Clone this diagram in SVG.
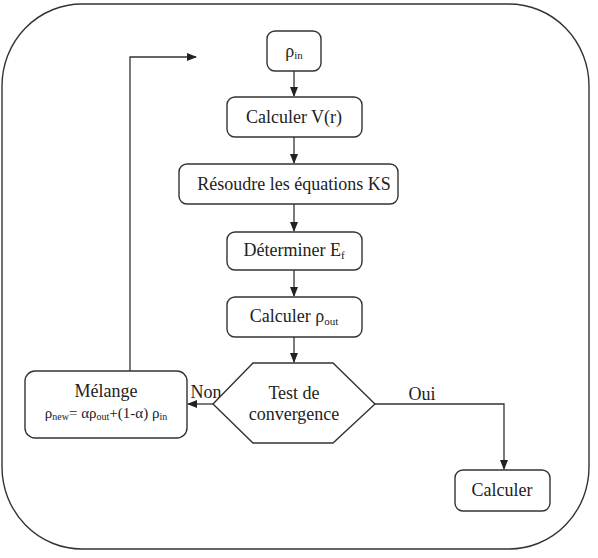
<svg xmlns="http://www.w3.org/2000/svg" width="598" height="558" viewBox="0 0 598 558">
<defs>
<marker id="ah" markerWidth="10" markerHeight="8" refX="9" refY="4" orient="auto" markerUnits="userSpaceOnUse">
<path d="M0,0 L10,4 L0,8 Z" fill="#222"/>
</marker>
<style>
.b{fill:#fff;stroke:#333;stroke-width:1.4}
.t{font-size:18px;fill:#222;text-anchor:middle}
.s{font-size:11px}
.c{fill:none;stroke:#333;stroke-width:1.3}
</style>
</defs>
<g font-family="'Liberation Serif', 'Times New Roman', 'DejaVu Serif', serif">
<rect x="2" y="4" width="587" height="545" rx="80" ry="82" fill="#fff" stroke="#333" stroke-width="1.4"/>
<g id="connectors">
<path class="c" d="M294,71 V96" marker-end="url(#ah)"/>
<path class="c" d="M294,137 V163" marker-end="url(#ah)"/>
<path class="c" d="M294,204 V231" marker-end="url(#ah)"/>
<path class="c" d="M294,270 V296" marker-end="url(#ah)"/>
<path class="c" d="M294,337 V362" marker-end="url(#ah)"/>
<path class="c" d="M375,404 H504 V469" marker-end="url(#ah)"/>
<path class="c" d="M213,404 H188" marker-end="url(#ah)"/>
<path class="c" d="M130,371 V57 H196" marker-end="url(#ah)"/>
<text class="t" x="422" y="400">Oui</text>
<text class="t" x="206" y="398">Non</text>
</g>
<g id="rho-in">
<rect class="b" x="267" y="31" width="54" height="40" rx="8"/>
<text class="t" x="294" y="57">ρ<tspan class="s" dy="2">in</tspan></text>
</g>
<g id="calc-v">
<rect class="b" x="227" y="97" width="135" height="40" rx="8"/>
<text class="t" x="294" y="123">Calculer V(r)</text>
</g>
<g id="resoudre">
<rect class="b" x="179" y="164" width="219" height="40" rx="8"/>
<text class="t" x="294" y="190">Résoudre les équations KS</text>
</g>
<g id="determiner">
<rect class="b" x="227" y="232" width="135" height="38" rx="8"/>
<text class="t" x="294" y="256">Déterminer E<tspan class="s" dy="3">f</tspan></text>
</g>
<g id="calc-rho">
<rect class="b" x="227" y="297" width="135" height="40" rx="8"/>
<text class="t" x="294" y="322">Calculer ρ<tspan class="s" dy="3">out</tspan></text>
</g>
<g id="test">
<polygon class="b" points="213,404 253,363 333,363 375,404 333,443 253,443"/>
<text class="t" x="294" y="399">Test de</text>
<text class="t" x="294" y="420">convergence</text>
</g>
<g id="melange">
<rect class="b" x="25" y="371" width="162" height="67" rx="10"/>
<text class="t" x="106" y="397">Mélange</text>
<text class="t" x="106" y="418" style="font-size:15px">ρ<tspan font-size="10" dy="2">new</tspan><tspan dy="-2">= αρ</tspan><tspan font-size="10" dy="2">out</tspan><tspan dy="-2">+(1-α) ρ</tspan><tspan font-size="10" dy="2">in</tspan></text>
</g>
<g id="calculer">
<rect class="b" x="455" y="470" width="95" height="41" rx="8"/>
<text class="t" x="502" y="496">Calculer</text>
</g>
</g>
</svg>
